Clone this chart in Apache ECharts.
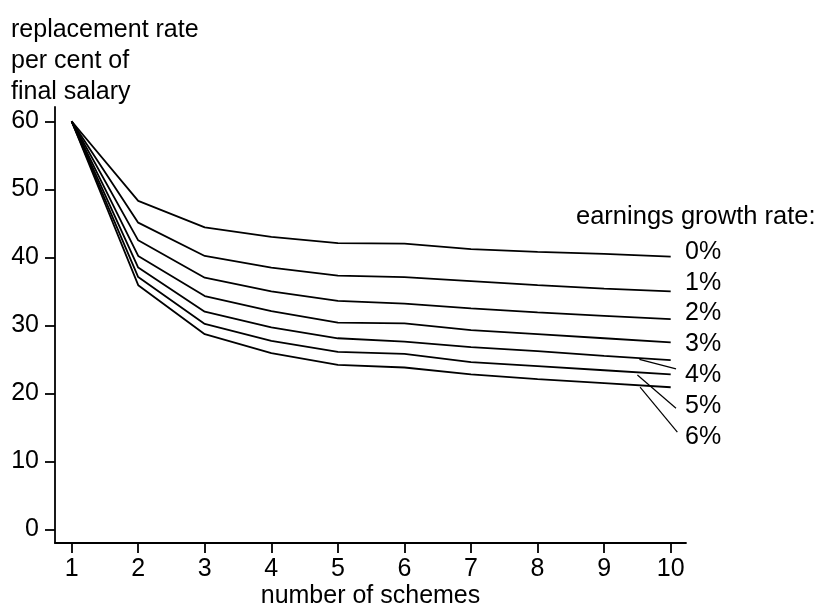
<!DOCTYPE html>
<html>
<head>
<meta charset="utf-8">
<script src="https://cdn.jsdelivr.net/npm/echarts@6/dist/echarts.min.js"></script>
<style>
  html, body { margin: 0; padding: 0; background: #fff; }
  #chart { width: 820px; height: 605px; }
</style>
</head>
<body>
<div id="chart"></div>
<script>
const schemes = [1, 2, 3, 4, 5, 6, 7, 8, 9, 10];
const growth0 = [60, 48.3, 44.4, 43.0, 42.1, 42.0, 41.2, 40.8, 40.5, 40.1];
const growth1 = [60, 45.1, 40.2, 38.5, 37.3, 37.1, 36.5, 35.9, 35.4, 35.0];
const growth2 = [60, 42.5, 37.0, 35.0, 33.6, 33.2, 32.5, 31.9, 31.4, 30.9];
const growth3 = [60, 40.2, 34.3, 32.1, 30.4, 30.3, 29.3, 28.7, 28.1, 27.5];
const growth4 = [60, 38.5, 32.0, 29.7, 28.1, 27.6, 26.8, 26.2, 25.5, 24.9];
const growth5 = [60, 37.1, 30.2, 27.7, 26.1, 25.8, 24.6, 24.0, 23.4, 22.8];
const growth6 = [60, 35.9, 28.7, 25.9, 24.2, 23.8, 22.8, 22.1, 21.5, 20.9];
const rateLabels = ['0%', '1%', '2%', '3%', '4%', '5%', '6%'];
const xTicks = [1, 2, 3, 4, 5, 6, 7, 8, 9, 10];
const yTicks = [0, 10, 20, 30, 40, 50, 60];

// leader lines for the crowded bottom labels (data coords)
const leaderFrom = [[9.53, 25.0], [9.50, 22.7], [9.54, 20.9]];
const leaderTo = [[10.08, 23.6], [10.08, 17.8], [10.10, 14.3]];

const FONT = '"Liberation Sans", Arial, Helvetica, sans-serif';
const FS = 25;

const allSeries = [growth0, growth1, growth2, growth3, growth4, growth5, growth6];

const chart = echarts.init(document.getElementById('chart'), null, { renderer: 'canvas' });

const series = allSeries.map((vals, i) => ({
  name: rateLabels[i],
  type: 'line',
  data: schemes.map((x, j) => [x, vals[j]]),
  symbol: 'none',
  silent: true,
  lineStyle: { color: '#000', width: 1.8 },
  animation: false
}));

series.push({
  type: 'line',
  data: [],
  silent: true,
  animation: false,
  markLine: {
    silent: true,
    symbol: 'none',
    animation: false,
    label: { show: false },
    lineStyle: { color: '#000', width: 1.2, type: 'solid' },
    data: leaderFrom.map((p, i) => [{ coord: p }, { coord: leaderTo[i] }])
  }
});

const labelTop = 252;
const labelStep = 30.8;

const graphics = [
  {
    type: 'text',
    x: 11,
    y: 15,
    style: {
      text: 'replacement rate\nper cent of\nfinal salary',
      font: FS + 'px ' + FONT,
      fill: '#000',
      lineHeight: 31,
      textVerticalAlign: 'top'
    }
  },
  {
    type: 'text',
    x: 576,
    y: 217,
    style: {
      text: 'earnings growth rate:',
      font: '25.5px ' + FONT,
      fill: '#000',
      textVerticalAlign: 'middle'
    }
  }
].concat(rateLabels.map((t, i) => ({
  type: 'text',
  x: 685,
  y: labelTop + i * labelStep,
  style: {
    text: t,
    font: FS + 'px ' + FONT,
    fill: '#000',
    textVerticalAlign: 'middle'
  }
})));

chart.setOption({
  backgroundColor: '#fff',
  animation: false,
  grid: { left: 55, right: 134, top: 107, bottom: 62, outerBoundsMode: 'none' },
  xAxis: {
    type: 'value',
    min: 0.75,
    max: 10.23,
    name: 'number of schemes',
    nameLocation: 'middle',
    nameGap: 41,
    nameMoveOverlap: false,
    nameTextStyle: { color: '#000', fontSize: FS, fontFamily: FONT },
    axisLine: { show: true, onZero: false, lineStyle: { color: '#000', width: 1.8 } },
    axisTick: { show: true, length: 10, customValues: xTicks, lineStyle: { color: '#000', width: 1.8 } },
    axisLabel: { customValues: xTicks, color: '#000', fontSize: FS, fontFamily: FONT, margin: 14 },
    splitLine: { show: false }
  },
  yAxis: {
    type: 'value',
    min: -2,
    max: 62.1,
    axisLine: { show: true, onZero: false, lineStyle: { color: '#000', width: 1.8 } },
    axisTick: { show: true, length: 10, customValues: yTicks, lineStyle: { color: '#000', width: 1.8 } },
    axisLabel: { customValues: yTicks, color: '#000', fontSize: FS, fontFamily: FONT, margin: 16 },
    splitLine: { show: false }
  },
  graphic: graphics,
  series: series
});
</script>
</body>
</html>
